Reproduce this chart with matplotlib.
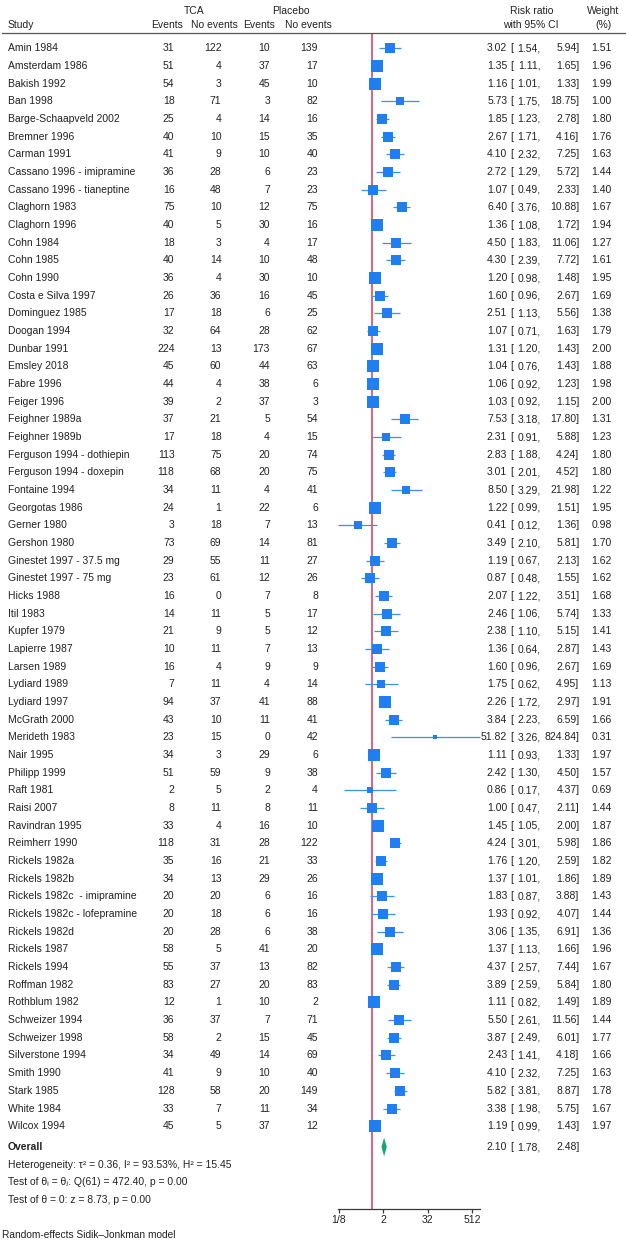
import matplotlib
matplotlib.use("Agg")
import matplotlib.pyplot as plt
import matplotlib.transforms as mtransforms
from matplotlib.lines import Line2D
from matplotlib.ticker import FixedLocator, NullLocator, FixedFormatter
import numpy as np

plt.rcParams['font.family'] = ['Liberation Sans', 'DejaVu Sans']

# ---------------- data ----------------
studies = [
    "Amin 1984", "Amsterdam 1986", "Bakish 1992", "Ban 1998", "Barge-Schaapveld 2002",
    "Bremner 1996", "Carman 1991", "Cassano 1996 - imipramine", "Cassano 1996 - tianeptine",
    "Claghorn 1983", "Claghorn 1996", "Cohn 1984", "Cohn 1985", "Cohn 1990",
    "Costa e Silva 1997", "Dominguez 1985", "Doogan 1994", "Dunbar 1991", "Emsley 2018",
    "Fabre 1996", "Feiger 1996", "Feighner 1989a", "Feighner 1989b",
    "Ferguson 1994 - dothiepin", "Ferguson 1994 - doxepin", "Fontaine 1994",
    "Georgotas 1986", "Gerner 1980", "Gershon 1980", "Ginestet 1997 - 37.5 mg",
    "Ginestet 1997 - 75 mg", "Hicks 1988", "Itil 1983", "Kupfer 1979", "Lapierre 1987",
    "Larsen 1989", "Lydiard 1989", "Lydiard 1997", "McGrath 2000", "Merideth 1983",
    "Nair 1995", "Philipp 1999", "Raft 1981", "Raisi 2007", "Ravindran 1995",
    "Reimherr 1990", "Rickels 1982a", "Rickels 1982b", "Rickels 1982c  - imipramine",
    "Rickels 1982c - lofepramine", "Rickels 1982d", "Rickels 1987", "Rickels 1994",
    "Roffman 1982", "Rothblum 1982", "Schweizer 1994", "Schweizer 1998",
    "Silverstone 1994", "Smith 1990", "Stark 1985", "White 1984", "Wilcox 1994",
]
tca_events = [31, 51, 54, 18, 25, 40, 41, 36, 16, 75, 40, 18, 40, 36, 26, 17, 32, 224, 45,
              44, 39, 37, 17, 113, 118, 34, 24, 3, 73, 29, 23, 16, 14, 21, 10, 16, 7, 94, 43,
              23, 34, 51, 2, 8, 33, 118, 35, 34, 20, 20, 20, 58, 55, 83, 12, 36, 58, 34, 41,
              128, 33, 45]
tca_nonevents = [122, 4, 3, 71, 4, 10, 9, 28, 48, 10, 5, 3, 14, 4, 36, 18, 64, 13, 60,
                 4, 2, 21, 18, 75, 68, 11, 1, 18, 69, 55, 61, 0, 11, 9, 11, 4, 11, 37, 10,
                 15, 3, 59, 5, 11, 4, 31, 16, 13, 20, 18, 28, 5, 37, 27, 1, 37, 2, 49, 9,
                 58, 7, 5]
pbo_events = [10, 37, 45, 3, 14, 15, 10, 6, 7, 12, 30, 4, 10, 30, 16, 6, 28, 173, 44,
              38, 37, 5, 4, 20, 20, 4, 22, 7, 14, 11, 12, 7, 5, 5, 7, 9, 4, 41, 11,
              0, 29, 9, 2, 8, 16, 28, 21, 29, 6, 6, 6, 41, 13, 20, 10, 7, 15, 14, 10,
              20, 11, 37]
pbo_nonevents = [139, 17, 10, 82, 16, 35, 40, 23, 23, 75, 16, 17, 48, 10, 45, 25, 62, 67, 63,
                 6, 3, 54, 15, 74, 75, 41, 6, 13, 81, 27, 26, 8, 17, 12, 13, 9, 14, 88, 41,
                 42, 6, 38, 4, 11, 10, 122, 33, 26, 16, 16, 38, 20, 82, 83, 2, 71, 45, 69, 40,
                 149, 34, 12]
rr = [3.02, 1.35, 1.16, 5.73, 1.85, 2.67, 4.10, 2.72, 1.07, 6.40, 1.36, 4.50, 4.30, 1.20,
      1.60, 2.51, 1.07, 1.31, 1.04, 1.06, 1.03, 7.53, 2.31, 2.83, 3.01, 8.50, 1.22, 0.41,
      3.49, 1.19, 0.87, 2.07, 2.46, 2.38, 1.36, 1.60, 1.75, 2.26, 3.84, 51.82, 1.11, 2.42,
      0.86, 1.00, 1.45, 4.24, 1.76, 1.37, 1.83, 1.93, 3.06, 1.37, 4.37, 3.89, 1.11, 5.50,
      3.87, 2.43, 4.10, 5.82, 3.38, 1.19]
ci_lo = [1.54, 1.11, 1.01, 1.75, 1.23, 1.71, 2.32, 1.29, 0.49, 3.76, 1.08, 1.83, 2.39, 0.98,
         0.96, 1.13, 0.71, 1.20, 0.76, 0.92, 0.92, 3.18, 0.91, 1.88, 2.01, 3.29, 0.99, 0.12,
         2.10, 0.67, 0.48, 1.22, 1.06, 1.10, 0.64, 0.96, 0.62, 1.72, 2.23, 3.26, 0.93, 1.30,
         0.17, 0.47, 1.05, 3.01, 1.20, 1.01, 0.87, 0.92, 1.35, 1.13, 2.57, 2.59, 0.82, 2.61,
         2.49, 1.41, 2.32, 3.81, 1.98, 0.99]
ci_hi = [5.94, 1.65, 1.33, 18.75, 2.78, 4.16, 7.25, 5.72, 2.33, 10.88, 1.72, 11.06, 7.72, 1.48,
         2.67, 5.56, 1.63, 1.43, 1.43, 1.23, 1.15, 17.80, 5.88, 4.24, 4.52, 21.98, 1.51, 1.36,
         5.81, 2.13, 1.55, 3.51, 5.74, 5.15, 2.87, 2.67, 4.95, 2.97, 6.59, 824.84, 1.33, 4.50,
         4.37, 2.11, 2.00, 5.98, 2.59, 1.86, 3.88, 4.07, 6.91, 1.66, 7.44, 5.84, 1.49, 11.56,
         6.01, 4.18, 7.25, 8.87, 5.75, 1.43]
weight = [1.51, 1.96, 1.99, 1.00, 1.80, 1.76, 1.63, 1.44, 1.40, 1.67, 1.94, 1.27, 1.61, 1.95,
          1.69, 1.38, 1.79, 2.00, 1.88, 1.98, 2.00, 1.31, 1.23, 1.80, 1.80, 1.22, 1.95, 0.98,
          1.70, 1.62, 1.62, 1.68, 1.33, 1.41, 1.43, 1.69, 1.13, 1.91, 1.66, 0.31, 1.97, 1.57,
          0.69, 1.44, 1.87, 1.86, 1.82, 1.89, 1.43, 1.44, 1.36, 1.96, 1.67, 1.80, 1.89, 1.44,
          1.77, 1.66, 1.63, 1.78, 1.67, 1.97]
overall_rr, overall_lo, overall_hi = 2.10, 1.78, 2.48
heterogeneity = "Heterogeneity: τ\u00b2 = 0.36, I\u00b2 = 93.53%, H\u00b2 = 15.45"
test_homog = "Test of θ\u1d62 = θ\u2c7c: Q(61) = 472.40, p = 0.00"
test_effect = "Test of θ = 0: z = 8.73, p = 0.00"
model_note = "Random-effects Sidik\u2013Jonkman model"
x_ticks = [0.125, 2, 32, 512]
x_ticklabels = ["1/8", "2", "32", "512"]

# ---------------- layout ----------------
W, H = 629, 1247
fig = plt.figure(figsize=(W / 100, H / 100), dpi=100)

def fx(px):
    return px / W

def fy(py):
    return 1 - py / H

row0_px, row_h = 48.3, 17.67       # pixel y of first row and row pitch
ax_top_px, ax_bot_px = 32.5, 1209.0
x_lo_lim, x_hi_lim = 0.12, 824.84
px_per_log2 = 11.08
ax_left_px = 339 + np.log2(x_lo_lim / 0.125) * px_per_log2
ax_right_px = 339 + (np.log2(x_hi_lim) + 3) * px_per_log2

ax = fig.add_axes([fx(ax_left_px), fy(ax_bot_px),
                   (ax_right_px - ax_left_px) / W, (ax_bot_px - ax_top_px) / H])
ax.set_xscale('log', base=2)
ax.set_xlim(x_lo_lim, x_hi_lim)
y_top = (ax_top_px - row0_px) / row_h
y_bot = (ax_bot_px - row0_px) / row_h
ax.set_ylim(y_bot, y_top)
ax.patch.set_alpha(0)

FS = 7.5
TXT = '#222222'

for s in ['top', 'left', 'right']:
    ax.spines[s].set_visible(False)
ax.spines['bottom'].set_color('#3a3a3a')
ax.spines['bottom'].set_linewidth(0.9)
ax.set_yticks([])
ax.xaxis.set_major_locator(FixedLocator(x_ticks))
ax.xaxis.set_major_formatter(FixedFormatter(x_ticklabels))
ax.xaxis.set_minor_locator(NullLocator())
ax.tick_params(axis='x', direction='out', length=3.2, width=0.9, color='#3a3a3a',
               labelsize=FS, labelcolor=TXT, pad=1.0)

BLUE = '#1f7ef2'
LINE_BLUE = '#3d8ff0'
RED = '#d23a62'
GREEN = '#14a673'

ax.axvline(1, color=RED, lw=1.1, zorder=1)

n = len(studies)
ys = np.arange(n)
for i in range(n):
    ax.plot([ci_lo[i], ci_hi[i]], [ys[i], ys[i]], color=LINE_BLUE, lw=0.9,
            solid_capstyle='butt', zorder=2, clip_on=False)
    side_px = 11.4 * np.sqrt(weight[i] / 2.0)
    ax.plot([rr[i]], [ys[i]], marker='s', ms=side_px * 0.72, mew=0,
            color=BLUE, zorder=3, clip_on=False)

# overall diamond
y_ov = (1147 - row0_px) / row_h
dh = 0.53
ax.fill([overall_lo, overall_rr, overall_hi, overall_rr],
        [y_ov, y_ov - dh, y_ov, y_ov + dh], color=GREEN, lw=0, zorder=3)

# ---------------- text ----------------
tr = mtransforms.blended_transform_factory(fig.transFigure, ax.transData)

def put(xpx, y, s, ha='left', **kw):
    ax.text(fx(xpx), y, s, transform=tr, ha=ha, va='center', fontsize=FS,
            color=TXT, clip_on=False, **kw)

def hdr(xpx, ypx, s, ha='center', **kw):
    fig.text(fx(xpx), fy(ypx), s, ha=ha, va='center', fontsize=FS, color=TXT, **kw)

hdr(194, 11, "TCA")
hdr(291, 11, "Placebo")
hdr(7.5, 25, "Study", ha='left')
hdr(167, 25, "Events")
hdr(214, 25, "No events")
hdr(259, 25, "Events")
hdr(308, 25, "No events")
hdr(532, 11, "Risk ratio")
hdr(531, 25, "with 95% CI")
hdr(603, 11, "Weight")
hdr(603, 25, "(%)")
fig.add_artist(Line2D([fx(2), fx(625)], [fy(ax_top_px), fy(ax_top_px)],
                      color='#555555', lw=0.9))

def ci_text(y, est, lo, hi):
    put(507.3, y, f"{est:.2f}", ha='right')
    put(510.3, y, "[", ha='left')
    put(540.5, y, f"{lo:.2f},", ha='right')
    put(579.5, y, f"{hi:.2f}]", ha='right')

for i in range(n):
    y = ys[i]
    put(7.5, y, studies[i])
    put(174.5, y, str(tca_events[i]), ha='right')
    put(221.5, y, str(tca_nonevents[i]), ha='right')
    put(270, y, str(pbo_events[i]), ha='right')
    put(318, y, str(pbo_nonevents[i]), ha='right')
    ci_text(y, rr[i], ci_lo[i], ci_hi[i])
    put(611.7, y, f"{weight[i]:.2f}", ha='right')

put(7.5, y_ov, "Overall", fontweight='bold')
ci_text(y_ov, overall_rr, overall_lo, overall_hi)
put(7.5, (1164.5 - row0_px) / row_h, heterogeneity)
put(7.5, (1182 - row0_px) / row_h, test_homog)
put(7.5, (1200 - row0_px) / row_h, test_effect)
fig.text(fx(2), fy(1235), model_note, ha='left', va='center', fontsize=7.3, color=TXT)

fig.savefig("out.png", dpi=100, facecolor='white')
